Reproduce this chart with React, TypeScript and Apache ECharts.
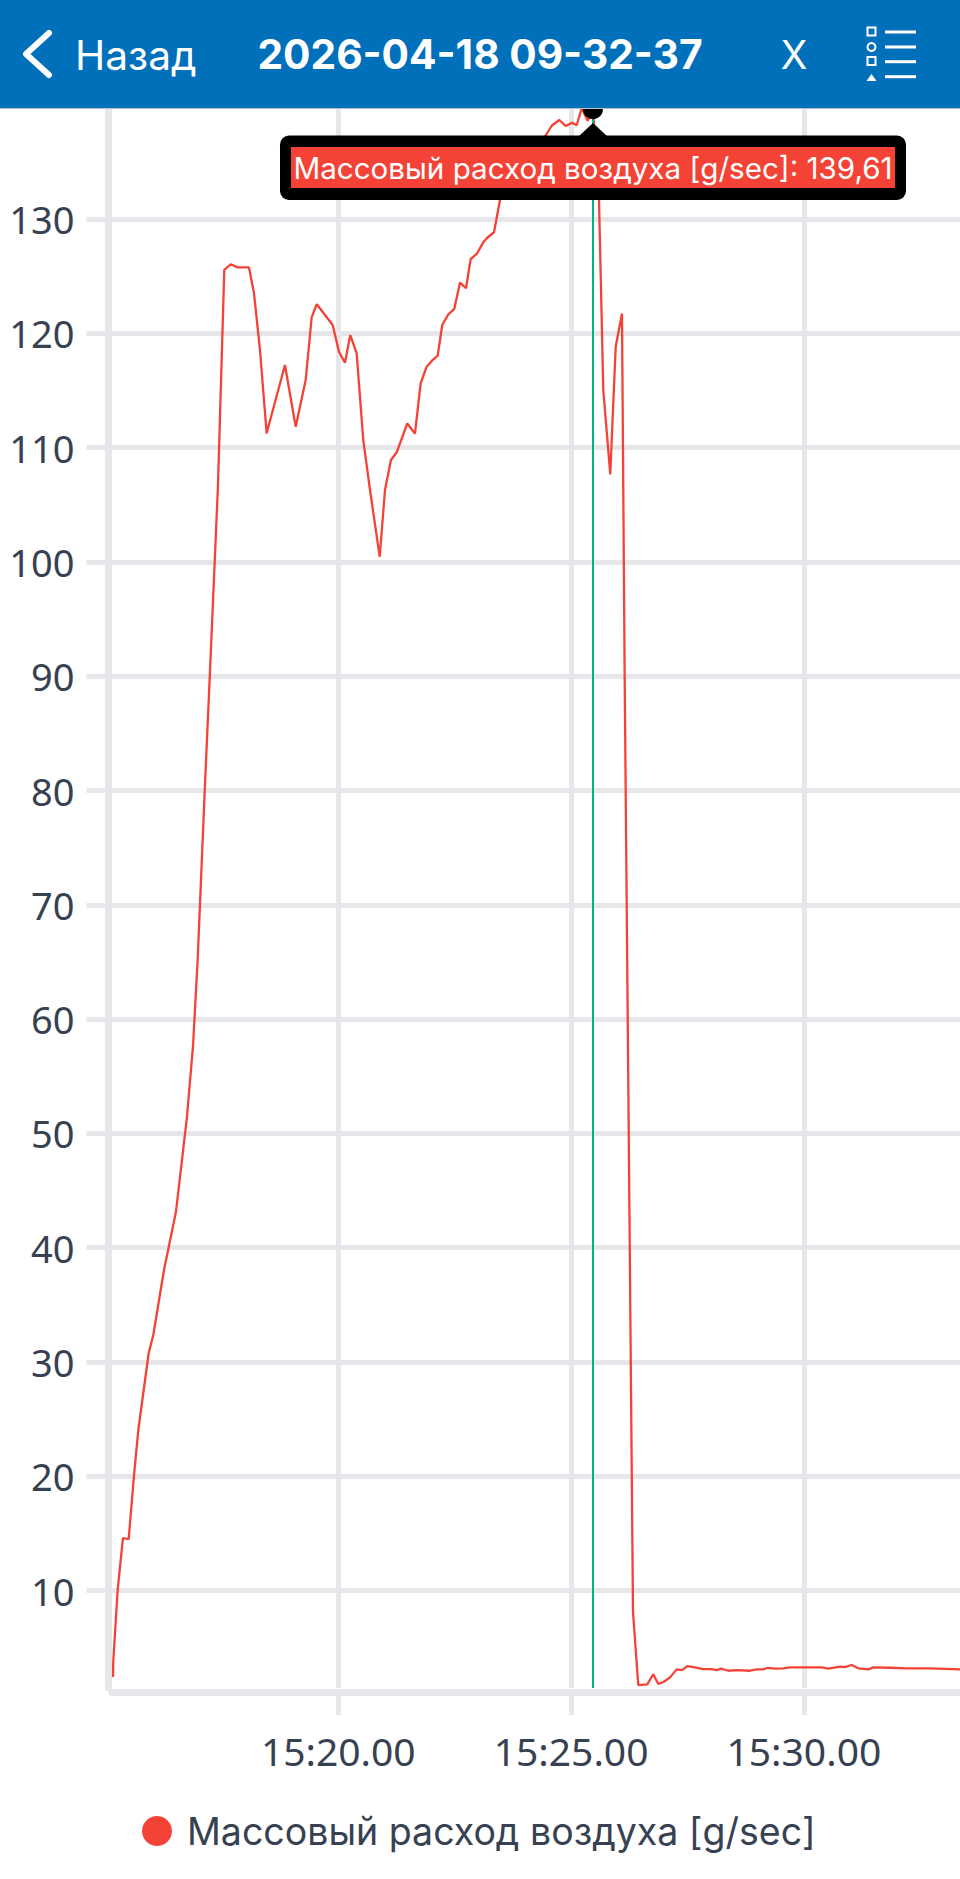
import React, { useEffect, useRef } from "react";
import * as echarts from "echarts";

const SERIES_NAME = "Массовый расход воздуха [g/sec]";
const TITLE = "2026-04-18 09-32-37";
const BACK = "Назад";
const TOOLTIP_TEXT = "Массовый расход воздуха [g/sec]: 139,61";

// seconds since 15:00:00
const times = [
  909.7, 910, 915.7, 922.5, 929.9, 936.7, 942.3, 955.7, 961.6, 975.4, 990.8, 1005, 1012.8, 1018.6, 1023.1, 1028.2,
  1034.7, 1045, 1053.1, 1061.3, 1070.4, 1084.9, 1091.4, 1099.1, 1107.7, 1131.3, 1145.1, 1158, 1165.7, 1172.2, 1192.8,
  1200.9, 1208.6, 1215.5, 1223.7, 1232.2, 1240.9, 1253.4, 1260.2, 1267.9, 1275.3, 1288.9, 1298.8, 1306.2, 1313.9,
  1320.4, 1328.1, 1334, 1341.8, 1349.5, 1356.8, 1364.6, 1370.6, 1378.4, 1386.9, 1392, 1400.7, 1408.4, 1421.3, 1436.7,
  1452.2, 1467.7, 1475, 1484.8, 1493, 1501.6, 1507.2, 1513.7, 1521.4, 1528.2, 1536, 1541.5, 1550.5, 1557.5, 1565.6,
  1569.1, 1579.8, 1586.6, 1598.2, 1605.9, 1612.4, 1619.7, 1627.5, 1636.1, 1642.9, 1649.8, 1659.7, 1670.4, 1681.2,
  1687.6, 1693.2, 1702.6, 1713.4, 1730.6, 1739.2, 1747.7, 1753.4, 1762.8, 1773.5, 1782.1, 1823, 1831.5, 1846.5, 1853,
  1861.6, 1870.1, 1883, 1889.5, 1911, 1932.5, 1962.5, 2001.2,
];
const values = [
  2.44, 3.75, 10.05, 14.6, 14.51, 20.03, 24.05, 30.79, 32.36, 38.05, 43.12, 51.43, 57.65, 64.91, 72.17, 80.48, 90.45,
  106.73, 125.54, 126.04, 125.77, 125.77, 123.5, 118.54, 111.25, 117.23, 111.83, 115.91, 121.4, 122.54, 120.73,
  118.39, 117.43, 119.85, 118.25, 110.66, 106.29, 100.45, 106.29, 108.92, 109.59, 112.11, 111.23, 115.63, 117.08,
  117.58, 118.04, 120.73, 121.66, 122.13, 124.43, 123.94, 126.5, 126.94, 127.96, 128.36, 128.84, 131.66, 134.11,
  135.16, 136.21, 137.35, 138.16, 138.66, 138.14, 138.43, 138.2, 139.69, 138.6, 139.61, 131.66, 115.04, 107.65,
  118.83, 121.73, 89.67, 8.13, 1.74, 1.8, 2.68, 1.83, 2.03, 2.41, 3.11, 3.05, 3.4, 3.29, 3.14, 3.14, 3.05, 3.17, 2.99,
  3.05, 2.99, 3.11, 3.11, 3.25, 3.17, 3.2, 3.29, 3.29, 3.17, 3.34, 3.31, 3.49, 3.2, 3.11, 3.29, 3.25, 3.2, 3.2, 3.11,
];
const cursorTime = 1528.2;
const cursorValue = 139.61;
const yTicks = [10, 20, 30, 40, 50, 60, 70, 80, 90, 100, 110, 120, 130, 140];
const yLabels = [10, 20, 30, 40, 50, 60, 70, 80, 90, 100, 110, 120, 130];
const xTicks = [1200, 1500, 1800];
const X_MIN = 908.4;
const X_MAX = 2001.2;
const Y_MIN = 1.48;
const Y_MAX = 149.16;

const GRID = "#e5e7eb";
const TEXT = "#374151";
const RED = "#f44336";
const FONT = "Inter, 'Noto Sans', sans-serif";
const NUM_FONT = "'Noto Sans', Inter, sans-serif";

const fmtTime = (s: number) => {
  const m = Math.floor(s / 60);
  return `15:${String(m).padStart(2, "0")}.00`;
};

export default function App() {
  const ref = useRef<HTMLDivElement>(null);
  useEffect(() => {
    const chart = echarts.init(ref.current!, null, { renderer: "svg" });
    const hdr = (o: any) => ({ z: 100, silent: true, ...o });
    const listLine = (y: number) =>
      hdr({ type: "rect", shape: { x: 885, y: y - 1.5, width: 31, height: 3 }, style: { fill: "#fff" } });
    chart.setOption({
      animation: false,
      backgroundColor: "#fff",
      grid: { left: 112, right: 0, top: 0, bottom: 191, containLabel: false },
      xAxis: {
        type: "value",
        min: X_MIN,
        max: X_MAX,
        offset: 4,
        axisLine: { show: true, onZero: false, lineStyle: { color: GRID, width: 7 } },
        axisTick: { show: true, length: 23, lineStyle: { color: GRID, width: 5 }, customValues: xTicks },
        splitLine: { show: true, lineStyle: { color: GRID, width: 5 } },
        axisLabel: {
          show: true,
          margin: 39,
          color: TEXT,
          fontFamily: NUM_FONT,
          fontSize: 39,
          customValues: xTicks,
          formatter: (v: number) => fmtTime(v),
        },
      },
      yAxis: {
        type: "value",
        min: Y_MIN,
        max: Y_MAX,
        offset: 3.5,
        axisLine: { show: true, onZero: false, lineStyle: { color: GRID, width: 7 } },
        axisTick: { show: true, length: 22, lineStyle: { color: GRID, width: 5 }, customValues: yTicks },
        splitLine: { show: true, lineStyle: { color: GRID, width: 5 } },
        axisLabel: {
          show: true,
          margin: 34,
          color: TEXT,
          fontFamily: NUM_FONT,
          fontSize: 38,
          padding: [6, 0, 0, 0],
          customValues: yLabels,
        },
      },
      legend: {
        show: true,
        left: 137,
        top: 1807,
        icon: "circle",
        itemWidth: 30,
        itemHeight: 30,
        textStyle: { color: TEXT, fontFamily: FONT, fontSize: 37.5, padding: [0, 0, 0, 10] },
        data: [SERIES_NAME],
      },
      tooltip: { show: false },
      series: [
        {
          type: "line",
          name: SERIES_NAME,
          data: times.map((t, i) => [t, values[i]]),
          showSymbol: false,
          smooth: false,
          color: RED,
          lineStyle: { color: RED, width: 2.3 },
          itemStyle: { color: RED },
          markLine: {
            silent: true,
            symbol: "none",
            label: { show: false },
            lineStyle: { color: "#00b67a", width: 2, type: "solid" },
            data: [{ xAxis: cursorTime }],
          },
          markPoint: {
            silent: true,
            symbol: "circle",
            symbolSize: 20,
            label: { show: false },
            itemStyle: { color: "#000" },
            data: [{ coord: [cursorTime, cursorValue] }],
          },
        },
      ],
      graphic: [
        hdr({ type: "rect", shape: { x: 0, y: 0, width: 960, height: 108 }, style: { fill: "#0070bb" } }),
        hdr({ type: "rect", shape: { x: 0, y: 108, width: 960, height: 1 }, style: { fill: "#b9c0c8" } }),
        hdr({
          type: "polyline",
          shape: { points: [[49, 33], [26, 54], [49, 75]] },
          style: { stroke: "#fff", lineWidth: 6, fill: "none", lineCap: "round", lineJoin: "round" },
        }),
        hdr({
          type: "text",
          x: 75,
          y: 55,
          style: { text: BACK, fill: "#fff", font: `400 40.7px ${FONT}`, textAlign: "left", textVerticalAlign: "middle" },
        }),
        hdr({
          type: "text",
          x: 480,
          y: 54,
          style: { text: TITLE, fill: "#fff", font: `700 40.7px ${FONT}`, textAlign: "center", textVerticalAlign: "middle" },
        }),
        hdr({
          type: "text",
          x: 794,
          y: 54,
          style: { text: "X", fill: "#fff", font: `400 39px ${FONT}`, textAlign: "center", textVerticalAlign: "middle" },
        }),
        hdr({ type: "rect", shape: { x: 867.5, y: 27.5, width: 8, height: 8 }, style: { fill: "none", stroke: "#fff", lineWidth: 2 } }),
        hdr({ type: "circle", shape: { cx: 871.5, cy: 47, r: 4 }, style: { fill: "none", stroke: "#fff", lineWidth: 2 } }),
        hdr({ type: "rect", shape: { x: 867.5, y: 57, width: 8, height: 8 }, style: { fill: "none", stroke: "#fff", lineWidth: 2 } }),
        hdr({ type: "polygon", shape: { points: [[871.5, 74], [866.5, 81], [876.5, 81]] }, style: { fill: "#fff" } }),
        listLine(32),
        listLine(47),
        listLine(61.7),
        listLine(76.7),
        hdr({ type: "polygon", shape: { points: [[593, 123], [578, 137], [608, 137]] }, style: { fill: "#000" } }),
        hdr({ type: "rect", shape: { x: 280, y: 135.5, width: 626, height: 64.5, r: 9 }, style: { fill: "#000" } }),
        hdr({ type: "rect", shape: { x: 291, y: 147, width: 604, height: 41 }, style: { fill: RED } }),
        hdr({
          type: "text",
          x: 593,
          y: 168,
          style: { text: TOOLTIP_TEXT, fill: "#fff", font: `400 29.6px ${FONT}`, textAlign: "center", textVerticalAlign: "middle" },
        }),
      ],
    });
    return () => chart.dispose();
  }, []);
  return (
    <div
      ref={ref}
      style={{ position: "absolute", left: 0, top: 0, width: 960, height: 1879 }}
    />
  );
}
